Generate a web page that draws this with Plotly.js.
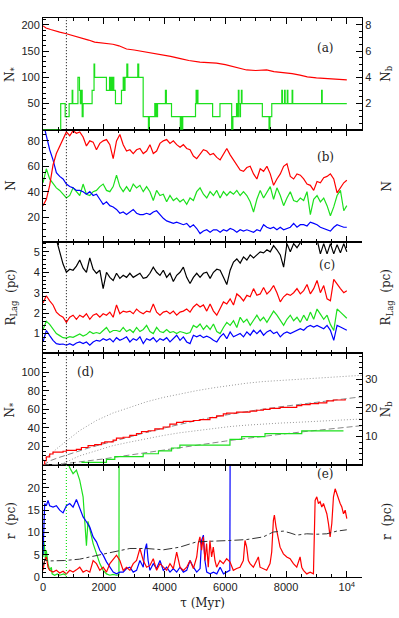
<!DOCTYPE html>
<html><head><meta charset="utf-8">
<script src="https://cdn.plot.ly/plotly-3.0.1.min.js"></script>
<style>html,body{margin:0;padding:0;background:#fff}#plot{width:399px;height:618px}</style>
</head><body><div id="plot"></div>
<script>
// ---------- data ----------
// shared time grid (Myr) for panels b and c
const T = [0,110,220,330,440,550,660,770,880,990,1100,1210,1320,1430,1540,1650,1760,1870,1980,2090,2200,2310,2420,2530,2640,2750,2860,2970,3080,3190,3300,3410,3520,3630,3740,3850,3960,4070,4180,4290,4400,4510,4620,4730,4840,4950,5060,5170,5280,5390,5500,5610,5720,5830,5940,6050,6160,6270,6380,6490,6600,6710,6820,6930,7040,7150,7260,7370,7480,7590,7700,7810,7920,8030,8140,8250,8360,8470,8580,8690,8800,8910,9020,9130,9240,9350,9460,9570,9680,9790,9900,10000];

// panel (a)
const aStarT = [0,100,250,400,550,770,900,1100,1300,1500,1700,1900,2100,2300,2500,2750,3000,3300,3600,3960,4200,4560,4800,5165,5400,5710,6000,6260,6500,6700,7000,7360,7600,7910,8200,8460,8700,9000,9300,9600,10000];
const aStar = [198,194,191,188,186,183,181,178,175,171,167,166,164,163,160,154,152,149,147,143,140,135,132,129,128,127,124,120,117,114,113,114,111,109,107,104,101,99,98,97,95];
const aBinT = [0,583,730,860,960,980,1150,1200,1230,1260,1290,1320,1616,1680,1700,2088,2190,2210,2250,2270,2300,2330,2385,2583,2640,2660,2700,2760,2790,3120,3150,3297,3470,3500,3680,3700,3720,3740,3770,4030,4060,4230,4520,4540,4580,4600,5020,5040,5060,5080,5100,5583,5825,6210,6250,6370,6400,6430,6450,6480,6500,6530,6550,7220,7440,7470,7530,7860,7880,7950,7970,8040,8060,8200,8220,9170,9190,10000];
const aBin = [0,2,1,2,3,2,4,3,2,3,1,2,3,5,4,3,4,3,4,3,4,3,2,3,4,3,4,5,4,5,4,1,0,1,2,1,2,1,2,3,2,1,0,1,0,1,2,3,2,3,2,1,2,0,1,2,1,3,2,1,2,3,2,1,0,1,2,3,2,3,2,3,2,3,2,3,2,2];

// panel (b)
const bRed = [29,34,45,61,70,76,82,87,84,88, 86,87,83,76,80,79,73,78,80,81, 77,66,80,85,77,72,73,70,73,74, 70,72,77,70,72,78,80,81,78,80, 77,75,77,74,73,68,66,70,73,72, 69,70,67,65,69,74,69,65,60,57, 56,59,60,54,50,58,56,60,54,45, 50,54,60,62,52,50,54,53,50,46, 45,41,48,47,51,52,54,50,39,43, 47,49];
const bGreen = [47,58,50,46,43,41,38,35,37,43, 40,37,46,38,37,40,41,44,46,41, 40,44,53,44,40,44,40,46,43,45, 40,44,40,33,41,37,38,32,37,33, 35,32,34,30,35,33,40,43,38,35, 40,37,41,35,40,37,40,38,41,37, 40,37,32,24,34,41,35,40,44,34, 43,37,29,35,40,33,32,35,33,40, 22,34,37,32,35,29,21,28,37,41, 25,29];
const bBlue = [95,83,73,65,55,52,50,46,44,43, 41,41,40,38,40,37,38,34,30,32, 29,28,26,23,24,22,24,26,23,22, 22,23,22,24,25,22,19,17,16,15, 16,15,14,15,12,14,11,7,9,10, 8,10,10,8,10,9,11,10,8,10, 9,10,9,8,10,9,14,12,11,12, 10,12,10,11,12,15,12,14,14,13, 16,15,14,12,11,10,9,12,14,13, 12,12];

// panel (c)
const cBlack = [null,null,null,null,5.6,5.0,4.4,4.0,4.15,4.1, 4.3,4.6,4.2,4.0,4.7,4.15,3.95,4.1,3.2,4.0, 3.75,3.6,3.95,3.7,3.85,3.75,3.95,3.75,3.85,3.95, 3.7,3.75,3.95,4.25,4.0,3.85,4.1,3.75,3.95,3.55, 3.85,4.0,4.25,3.75,3.45,3.75,3.95,3.75,3.95,4.0, 3.7,4.0,4.15,4.1,3.75,3.4,4.1,4.5,4.65,4.45, 4.75,4.6,4.85,4.7,4.85,5.0,4.95,5.1,5.0,5.3, 5.1,4.85,4.25,5.4,5.0,5.4,5.2,5.45,5.6,5.7, 5.8,5.7,5.6,4.9,5.4,4.9,5.4,4.9,5.35,4.95, 5.4,5.0];
const cRed = [2.5,2.85,2.6,2.4,2.05,1.9,1.8,1.55,1.8,1.9, 1.7,1.9,1.8,1.97,1.7,1.9,1.97,1.8,1.97,1.9, 2.05,1.8,2.4,1.97,2.1,2.05,2.1,1.97,2.2,2.05, 1.97,2.1,2.05,2.45,2.05,1.9,2.05,2.1,1.97,2.1, 1.9,2.05,2.1,2.2,2.05,2.3,2.45,2.3,2.4,2.1, 2.45,2.1,1.9,2.2,2.55,2.45,2.7,2.4,2.94,2.8, 2.6,2.87,2.8,3.2,2.87,2.94,3.25,2.94,3.1,3.35, 3.0,2.55,2.8,2.94,2.87,3.0,3.2,2.94,3.1,3.4, 2.94,3.2,3.6,3.0,3.35,2.7,2.6,3.65,3.4,3.2, 3.0,3.1];
const cGreen = [1.2,1.6,1.45,1.2,1.0,0.9,0.8,0.78,0.85,0.82, 0.9,0.98,0.88,0.95,1.1,1.0,1.05,1.0,1.15,1.3, 1.05,1.15,1.15,1.1,1.3,1.1,1.2,1.05,1.3,1.1, 1.2,1.4,1.1,1.0,1.3,1.1,1.05,1.2,1.05,1.1, 1.0,1.1,1.05,1.0,1.05,1.4,1.3,1.47,1.2,1.4, 1.2,1.47,1.1,1.0,1.3,1.55,1.4,1.63,1.3,1.8, 1.55,1.7,1.4,1.63,1.9,1.63,1.8,1.55,1.8,2.1, 1.9,1.63,1.4,1.7,1.9,1.63,1.8,1.55,1.9,1.63, 2.05,1.7,2.2,1.95,1.7,1.9,1.45,1.15,2.2,2.05, 1.9,1.75];
const cBlue = [0.6,1.15,0.9,0.67,0.51,0.47,0.49,0.43,0.51,0.43, 0.54,0.59,0.51,0.59,0.43,0.59,0.67,0.63,0.75,0.67, 0.75,0.59,0.8,0.67,0.75,0.84,0.59,0.75,0.67,0.84, 0.51,0.75,0.67,0.8,0.59,0.75,0.67,0.8,0.59,0.75, 0.92,0.67,0.84,0.59,0.51,0.92,0.84,0.92,0.8,0.87, 0.8,0.67,0.59,0.84,1.0,0.75,1.08,0.84,0.92,1.0, 0.84,1.08,0.92,1.16,1.0,1.16,0.92,1.08,1.16,1.0, 1.08,0.84,1.0,1.08,1.0,1.08,1.16,1.24,1.16,1.32, 1.4,1.32,1.4,1.32,1.24,1.4,1.16,0.67,1.4,1.32, 1.24,1.16];

// panel (d)
const dStarT = [0,55,110,220,330,660,770,1044,1099,1264,1484,1703,1923,2033,2308,2418,2638,2857,3077,3242,3462,3682,3956,4176,4396,4616,4946,5165,5495,5715,5935,6045,6374,6594,6814,7034,7253,7473,7803,8133,8352,8517,8792,9067,9342,9561,9946];
const dStar = [0,5,9,12,14,15,16,16,17,19,21,22,24,25,27,29,30,32,34,36,37,39,41,44,46,47,48,49,51,53,55,56,57,57,58,59,60,61,62,62,64,65,66,67,69,70,71];
const dBinT = [1264,2088,2363,3297,3800,4231,4506,6154,6540,7308,8517,9890];
const dBin = [1,2,3,4,5,6,7,9,10,11,12,12];
const dFitT = [0,250,500,1000,1500,2000,2500,3000,3500,4000,4500,5000,5500,6000,6500,7000,7500,8000,8500,9000,9500,10000,10500];
const dFitStar = [0,5,8,13.5,18.5,23,27.5,32,36,40,44,47.5,51,54,56.5,59,61.5,63.5,65.5,67.5,69.5,71.5,73.5];
const dFitBin = [0,0.15,0.3,0.9,1.5,2.2,3.0,3.8,4.6,5.3,6.1,6.9,7.7,8.4,9.1,9.8,10.4,11.0,11.6,12.2,12.8,13.3,13.8];
const dUpT = [0,250,500,770,1200,1758,2300,2857,3400,3956,4500,5055,5600,6154,6700,7253,7800,8352,8900,9451,10000,10500];
const dUp = [6,12,19,26,37,48,56,62,68,72.7,76.5,80,83,85.8,88,89.8,91,92.3,93.5,94.8,95.7,96.5];
const dLoT = [500,770,1200,1758,2300,2857,3400,3956,4500,5055,5600,6154,6700,7253,7800,8352,8900,9451,10000,10500];
const dLo = [0,3.5,10,16,21,24.8,28.5,31.9,34.8,37.2,39.5,41.5,43,44.3,45.2,46,47,47.9,48.8,49.6];

// panel (e)
const eBlueT = [0,30,55,110,165,220,330,440,550,660,770,880,990,1100,1210,1320,1430,1540,1650,1760,1870,1980,2090,2200,2310,2420,2530,2640,2750,2860,2970,3080,3190,3300,3350,3410,3460,3520,3630,3740,3850,3960,4070,4180,4290,4400,4510,4620,4730,4840,4950,5060,5170,5220,5280,5330,5390,5500,5610,5720,5830,5940,6050,6150,6160];
const eBlue = [5,16,16.5,16,17.2,16,15.7,16,15,14.4,16,16.5,15.7,17.4,15.4,13.5,12.4,11.2,9,7.9,6,4.9,3.4,2.2,1.1,0.7,1.1,1.1,1.9,2.2,1.1,1.5,3.7,2.2,6,7.5,3.7,1.5,3,1.9,3.7,1.5,2.2,1.1,1.9,1.1,2.2,1.1,1.5,3.7,2.2,1.1,1.9,8.2,9.4,3.7,1.1,0.7,1.1,0.7,2.2,0.7,1.1,1.5,30];
const eGreenT = [0,30,55,80,110,140,165,220,275,300,385,470,550,680,760,775,790,830,880,990,1100,1210,1320,1380,1430,1480,1540,1600,1650,1700,1760,1870,1980,2090,2200,2310,2420,2500,2505];
const eGreen = [4.5,7.9,6.4,3.7,6,4.5,3,1.5,2.2,0.7,0.4,0.7,0.4,0.7,0.4,null,30,25.5,24.5,23.2,24,21.7,18,12,7,12.5,11,9,7.5,6.5,4.8,3,1.5,0.7,0.4,0.6,0.4,0.5,30];
const eRedT = [0,55,110,165,220,330,440,550,660,770,880,990,1100,1210,1320,1430,1540,1650,1760,1870,1980,2090,2200,2310,2420,2530,2640,2750,2860,2970,3080,3190,3240,3300,3410,3520,3630,3740,3850,3960,4070,4180,4290,4400,4450,4510,4620,4730,4840,4950,5060,5110,5165,5220,5275,5330,5385,5440,5495,5550,5605,5660,5715,5825,5935,6045,6154,6264,6374,6484,6594,6649,6704,6759,6814,6924,7034,7089,7143,7253,7363,7473,7528,7583,7616,7671,7748,7803,7913,8023,8133,8242,8352,8462,8517,8572,8682,8792,8902,8935,8957,9012,9067,9122,9177,9232,9287,9342,9396,9451,9506,9561,9616,9671,9726,9781,9836,9891,9946,10000];
const eRed = [1.5,3.7,4.5,2.2,1.5,1.1,1.5,0.9,1.3,0.7, 1.5,1.1,1.6,2.2,1.1,1.5,1.1,3.7,3.0,1.5, 2.2,1.1,3.0,4.1,4.9,3.7,1.5,2.2,1.5,3.0, 3.7,6.4,5.2,3.7,2.2,2.6,4.1,1.5,3.0,2.2, 1.5,3.0,1.9,5.6,3.7,2.2,1.5,2.2,3.7,1.9, 4.5,7.5,9.0,6.0,9.0,3.7,7.5,2.2,8.2,4.5, 6.7,3.7,2.2,3.7,3.0,4.1,3.4,1.5,1.9,2.2, 3.7,8.2,6.7,3.7,3.0,2.2,3.7,4.5,2.2,1.9, 1.5,3.0,5.6,12.7,13.9,11.2,8.2,6.7,5.2,4.5, 4.1,3.0,2.2,4.5,2.2,1.5,0.7,1.1,0.7,11.2, 17.2,18.0,16.5,16.9,15.7,16.5,15.4,14.2,12.0,9.0, 12.0,18.0,19.8,18.7,17.2,16.5,15.7,14.2,15.0,13.1];
const eCoreT = [0,60,200,700,1200,1760,2300,2860,3400,3960,4500,5060,5600,6150,6700,7250,7580,7910,8130,8350,8680,9010,9340,9670,10000];
const eCore = [2.5,3.8,3.6,3.7,4.0,4.9,5.6,6.4,6.4,6.1,6.7,7.9,8.0,8.2,8.4,9.0,10.1,10.3,9.9,9.4,9.7,9.6,9.7,10.3,10.6];

const xTickVals = [0,2000,4000,6000,8000,10000];
const xTickText = ['0','2000','4000','6000','8000','10<sup>4</sup>'];
const tMark = 770;
const panelLabels = ['(a)','(b)','(c)','(d)','(e)'];
const leftTitles = ['N<sub>*</sub>','N','R<sub>Lag</sub>  (pc)','N<sub>*</sub>','r  (pc)'];
const rightTitles = ['N<sub>b</sub>','N','R<sub>Lag</sub>  (pc)','N<sub>b</sub>','r  (pc)'];

// ---------- styling ----------
const RED = '#ff0000', GREEN = '#1de01d', BLUE = '#0000ff', BLACK = '#000000';
const TF = {family:'Liberation Sans, Arial, sans-serif', size:11, color:'#222'};
const HF = {family:'DejaVu Serif, serif', size:12, color:'#222'};

function ln(x, y, xa, ya, color, extra) {
  return Object.assign({x:x, y:y, xaxis:xa, yaxis:ya, type:'scatter', mode:'lines',
    line:{color:color, width:1.2}, hoverinfo:'skip', connectgaps:false}, extra||{});
}

const data = [
  ln(aStarT, aStar, 'x5', 'y5', RED),
  ln(aBinT, aBin, 'x5', 'y6', GREEN, {line:{color:GREEN, width:1.2, shape:'hv'}}),
  ln(T, bGreen, 'x4', 'y4', GREEN),
  ln(T, bBlue, 'x4', 'y4', BLUE),
  ln(T, bRed, 'x4', 'y4', RED),
  ln(T, cBlack, 'x3', 'y3', BLACK),
  ln(T, cRed, 'x3', 'y3', RED),
  ln(T, cGreen, 'x3', 'y3', GREEN),
  ln(T, cBlue, 'x3', 'y3', BLUE),
  ln(dUpT, dUp, 'x2', 'y2', '#999', {line:{color:'#999', width:1, dash:'1px,2px'}}),
  ln(dLoT, dLo, 'x2', 'y2', '#999', {line:{color:'#999', width:1, dash:'1px,2px'}}),
  ln(dFitT, dFitStar, 'x2', 'y2', '#888', {line:{color:'#888', width:1, dash:'6px,3px'}}),
  ln(dFitT, dFitBin, 'x2', 'y9', '#888', {line:{color:'#888', width:1, dash:'6px,3px'}}),
  ln(dStarT, dStar, 'x2', 'y2', RED, {line:{color:RED, width:1.2, shape:'hv'}}),
  ln(dBinT, dBin, 'x2', 'y9', GREEN, {line:{color:GREEN, width:1.2, shape:'hv'}}),
  ln(eGreenT, eGreen, 'x', 'y', GREEN),
  ln(eBlueT, eBlue, 'x', 'y', BLUE),
  ln(eRedT, eRed, 'x', 'y', RED),
  ln(eCoreT, eCore, 'x', 'y', '#333', {line:{color:'#333', width:1, dash:'dashdot'}})
];

function xAx(anchor, labels) {
  const o = {anchor:anchor, domain:[0,1], range:[0,10500], showgrid:false, zeroline:false,
    showline:true, linecolor:'#000', linewidth:1, mirror:'ticks', ticks:'inside', ticklen:6,
    tickcolor:'#000', tickmode:'array', tickvals:xTickVals, ticktext:xTickText,
    showticklabels:labels, tickfont:TF,
    minor:{tickmode:'linear', tick0:0, dtick:500, ticks:'inside', ticklen:3, tickcolor:'#000'}};
  if (anchor !== 'y') o.matches = 'x';
  return o;
}
function yAx(domain, range, vals, minor, anchorX, side, overlay) {
  const o = {domain:domain, range:range, anchor:anchorX, side:side||'left', showgrid:false,
    zeroline:false, showline:true, linecolor:'#000', linewidth:1, ticks:'inside', ticklen:6,
    tickcolor:'#000', tickmode:'array', tickvals:vals, tickfont:TF,
    minor:{tickmode:'linear', tick0:0, dtick:minor, ticks:'inside', ticklen:3, tickcolor:'#000'},
    fixedrange:true};
  if (overlay) o.overlaying = overlay;
  return o;
}

const ann = [];
const labelPos = [[0.92,0.962],[0.92,0.767],[0.923,0.558],[0.1,0.367],[0.915,0.168]];
const centers = [0.9,0.7,0.5,0.3,0.1];
for (let i = 0; i < 5; i++) {
  ann.push({text:panelLabels[i], xref:'paper', yref:'paper', x:labelPos[i][0], y:labelPos[i][1], showarrow:false, font:HF});
  ann.push({text:leftTitles[i], xref:'paper', yref:'paper', x:-0.1, y:centers[i], textangle:-90, showarrow:false, font:HF, xanchor:'center', yanchor:'middle'});
  ann.push({text:rightTitles[i], xref:'paper', yref:'paper', x:1.078, y:centers[i], textangle:-90, showarrow:false, font:HF, xanchor:'center', yanchor:'middle'});
}

const layout = {
  width:399, height:618, margin:{l:43, r:37, t:18, b:41},
  paper_bgcolor:'#fff', plot_bgcolor:'#fff', showlegend:false,
  xaxis: Object.assign(xAx('y', true), {title:{text:'τ (Myr)', font:HF, standoff:6}}),
  xaxis2: xAx('y2', false), xaxis3: xAx('y3', false), xaxis4: xAx('y4', false), xaxis5: xAx('y5', false),
  yaxis: yAx([0,0.2], [0,25.1], [0,5,10,15,20], 1, 'x'),
  yaxis2: yAx([0.2,0.4], [0,120], [20,40,60,80,100], 5, 'x2'),
  yaxis3: yAx([0.4,0.6], [0.03,5.5], [1,2,3,4,5], 0.2, 'x3'),
  yaxis4: yAx([0.6,0.8], [0.7,88.7], [20,40,60,80], 5, 'x4'),
  yaxis5: yAx([0.8,1.0], [0,213], [50,100,150,200], 10, 'x5'),
  yaxis6: yAx([0.8,1.0], [0,8.52], [2,4,6,8], 0.5, 'x5', 'right', 'y5'),
  yaxis7: yAx([0.6,0.8], [0.7,88.7], [20,40,60,80], 5, 'x4', 'right', 'y4'),
  yaxis8: yAx([0.4,0.6], [0.03,5.5], [1,2,3,4,5], 0.2, 'x3', 'right', 'y3'),
  yaxis9: yAx([0.2,0.4], [0,39], [10,20,30], 2, 'x2', 'right', 'y2'),
  yaxis10: yAx([0,0.2], [0,25.1], [0,5,10,15,20], 1, 'x', 'right', 'y'),
  shapes:[
    {type:'line', xref:'x', yref:'paper', x0:tMark, x1:tMark, y0:0.2, y1:1, line:{color:'#000', width:1, dash:'1px,2px'}},
    {type:'line', xref:'x', yref:'paper', x0:tMark, x1:tMark, y0:0, y1:0.2, line:{color:GREEN, width:1.2, dash:'1px,2px'}}
  ],
  annotations: ann
};

Plotly.newPlot('plot', data, layout, {staticPlot:true, displayModeBar:false});
</script>
</body></html>
